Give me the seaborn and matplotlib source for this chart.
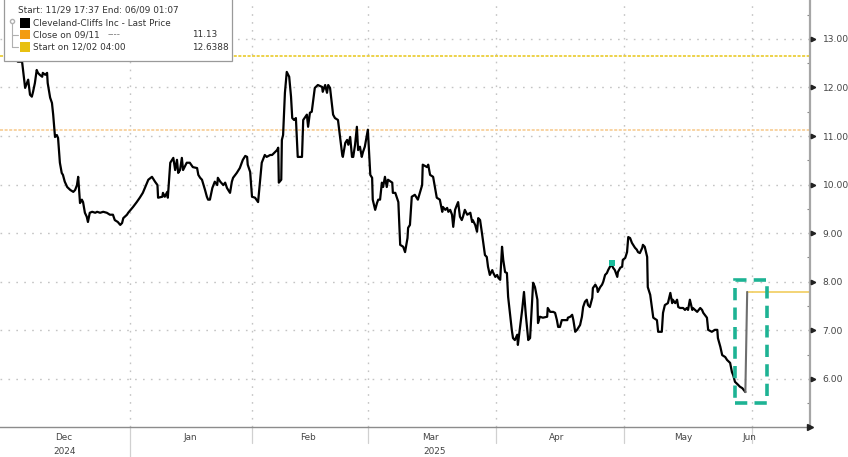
import matplotlib
matplotlib.use("Agg")
import matplotlib.pyplot as plt
import matplotlib.transforms as mtransforms
from matplotlib.patches import Rectangle
from matplotlib.lines import Line2D
import pandas as pd
import seaborn as sns

# ---------------- data (x = trading-session index, 0 = 29 Nov 2024) ----------------
session = [1.8, 3.1, 3.8, 4.3, 4.6, 4.8, 5.1, 5.4, 5.6, 5.9, 6.2, 6.4, 6.7, 7.1, 7.2, 7.6, 7.9, 8.0, 8.4,
           8.7, 8.9, 9.2, 9.5, 9.7, 10.0, 10.3, 10.5, 10.8, 11.2, 11.7, 12.2, 12.5, 12.8, 13.0, 13.3, 13.6, 13.8,
           14.1, 14.4, 14.6, 14.9, 15.3, 15.8, 16.1, 16.6, 17.1, 17.7, 18.2, 18.7, 19.0, 19.5, 19.9, 20.2, 20.4,
           21.0, 21.2, 22.0, 22.6, 23.1, 23.6, 24.0, 24.5, 25.1, 25.6, 26.0, 26.1, 26.8, 26.9, 27.2, 27.6, 27.7,
           28.1, 28.4, 28.6, 28.9, 29.2, 29.4, 29.7, 30.0, 30.2, 30.8, 31.3, 31.8, 32.5, 32.7, 33.0, 33.3, 33.8,
           34.1, 34.3, 34.6, 35.0, 35.4, 35.8, 35.9, 36.3, 36.8, 37.1, 37.4, 37.9, 38.2, 38.4, 39.0, 39.5, 40.0,
           40.4, 40.7, 40.8, 41.2, 41.5, 42.0, 42.5, 42.8, 43.1, 43.6, 43.9, 44.5, 44.8, 45.6, 45.8, 45.9, 46.3,
           46.4, 46.6, 46.9, 47.2, 47.6, 47.9, 48.1, 48.4, 48.7, 49.0, 49.7, 49.9, 50.5, 50.7, 51.0, 51.3, 51.8,
           52.3, 53.0, 53.1, 53.5, 53.8, 54.0, 54.3, 54.8, 55.1, 55.6, 56.3, 56.4, 56.8, 57.1, 57.3, 57.6, 57.9,
           58.1, 58.4, 58.7, 58.9, 59.2, 59.5, 59.7, 60.0, 60.4, 60.5, 60.9, 61.2, 61.3, 61.7, 62.0, 62.2, 62.5,
           62.8, 63.0, 63.3, 63.6, 63.8, 64.5, 64.6, 65.0, 65.5, 65.8, 66.3, 66.6, 67.0, 67.1, 67.4, 67.7, 68.2,
           68.7, 69.4, 69.5, 70.2, 70.4, 70.7, 71.2, 71.8, 72.3, 72.7, 72.8, 73.2, 73.5, 73.7, 74.0, 74.3, 74.5,
           74.8, 75.1, 75.3, 75.6, 75.9, 76.1, 76.4, 76.8, 77.3, 77.6, 77.7, 78.1, 78.4, 78.6, 78.9, 79.2, 79.7,
           80.0, 80.2, 80.5, 80.9, 81.0, 81.4, 81.7, 81.9, 82.2, 82.5, 82.7, 83.0, 83.3, 83.5, 83.8, 84.1, 84.3,
           84.6, 85.0, 85.1, 85.5, 85.8, 86.1, 86.4, 86.8, 87.1, 87.6, 87.9, 88.3, 88.4, 88.7, 89.2, 89.9, 90.0,
           90.4, 90.9, 91.2, 91.5, 91.7, 92.0, 92.3, 92.5, 93.2, 93.3, 93.7, 94.0, 94.2, 94.5, 94.8, 95.0, 95.3,
           95.6, 95.8, 96.1, 96.4, 96.6, 96.9, 97.3, 97.4, 97.8, 98.1, 98.2, 98.6, 98.9, 99.1, 99.4, 99.7, 99.9,
           100.2, 100.5, 100.7, 101.0, 101.4, 101.5, 101.9, 102.2, 102.3, 102.7, 103.0, 103.2, 103.5, 103.8,
           104.0, 104.3, 104.6, 104.8, 105.1, 105.5, 105.6, 105.9, 106.3, 106.4, 106.8, 107.3, 107.9, 108.1,
           108.7, 108.9, 109.2, 109.7, 110.1, 110.4, 110.5, 110.9, 111.2, 111.4, 111.7, 112.2, 112.5, 112.8,
           113.0, 113.3, 113.7, 113.8, 114.5, 115.0, 115.3, 115.5, 116.1, 116.3, 116.9, 117.4, 117.8, 117.9,
           118.3, 118.6, 119.1, 119.4, 119.9, 120.2, 120.4, 120.7, 121.2, 121.5, 121.9, 122.4]
price = [12.80, 12.53, 12.53, 11.99, 12.09, 12.16, 11.85, 11.81, 11.91, 12.09, 12.36, 12.30, 12.26, 12.22,
         12.30, 12.26, 12.30, 12.09, 11.79, 11.68, 11.44, 10.98, 11.02, 10.96, 10.45, 10.24, 10.20, 10.06, 9.95,
         9.89, 9.85, 9.89, 9.99, 10.16, 9.62, 9.69, 9.64, 9.42, 9.34, 9.23, 9.42, 9.44, 9.42, 9.44, 9.42, 9.44,
         9.42, 9.38, 9.38, 9.27, 9.23, 9.17, 9.21, 9.31, 9.38, 9.42, 9.54, 9.64, 9.73, 9.83, 9.95, 10.10, 10.16,
         10.06, 9.99, 9.73, 9.75, 9.83, 9.75, 9.85, 9.73, 10.45, 10.51, 10.55, 10.30, 10.51, 10.24, 10.30, 10.55,
         10.30, 10.45, 10.45, 10.36, 10.34, 10.20, 10.14, 10.10, 9.89, 9.75, 9.69, 9.69, 9.93, 10.06, 9.99, 10.14,
         10.06, 9.99, 10.04, 9.93, 9.83, 10.06, 10.14, 10.24, 10.34, 10.51, 10.59, 10.57, 10.41, 10.26, 9.75,
         9.73, 9.64, 10.04, 10.45, 10.61, 10.57, 10.61, 10.61, 10.71, 10.76, 10.04, 10.10, 10.92, 11.02, 11.89,
         12.32, 12.22, 11.81, 11.37, 11.33, 11.37, 10.57, 10.57, 11.33, 11.44, 11.19, 11.48, 11.50, 11.99, 12.05,
         12.01, 11.91, 12.05, 11.89, 12.05, 11.99, 11.44, 11.37, 11.33, 10.61, 10.57, 10.86, 10.92, 10.82, 10.98,
         10.57, 10.57, 10.82, 11.19, 10.71, 10.78, 10.57, 10.67, 10.78, 11.06, 11.13, 10.20, 10.14, 9.69, 9.48,
         9.62, 9.69, 9.69, 10.04, 9.95, 10.16, 9.95, 10.10, 10.04, 9.83, 9.83, 9.64, 8.76, 8.72, 8.61, 8.90, 9.11,
         9.17, 9.75, 9.79, 9.69, 9.99, 10.41, 10.36, 10.41, 10.20, 10.16, 9.73, 9.69, 9.44, 9.54, 9.48, 9.52,
         9.44, 9.48, 9.38, 9.13, 9.48, 9.58, 9.64, 9.34, 9.27, 9.34, 9.48, 9.38, 9.42, 9.23, 9.27, 9.17, 9.03,
         9.31, 9.27, 9.01, 8.55, 8.51, 8.31, 8.14, 8.24, 8.20, 8.10, 8.14, 8.08, 8.04, 8.72, 8.45, 8.20, 8.18,
         7.69, 7.36, 7.01, 6.84, 6.80, 6.91, 6.70, 7.11, 7.42, 7.79, 7.32, 6.80, 6.84, 7.98, 7.89, 7.63, 7.15,
         7.28, 7.26, 7.28, 7.46, 7.38, 7.38, 7.36, 7.21, 7.07, 7.07, 7.21, 7.21, 7.21, 7.26, 7.28, 7.32, 7.21,
         6.97, 7.01, 7.05, 7.11, 7.28, 7.48, 7.59, 7.63, 7.52, 7.48, 7.67, 7.87, 7.94, 7.87, 7.79, 7.89, 7.94,
         8.00, 8.14, 8.18, 8.24, 8.31, 8.35, 8.29, 8.24, 8.10, 8.20, 8.29, 8.31, 8.45, 8.49, 8.61, 8.92, 8.90,
         8.80, 8.76, 8.70, 8.66, 8.61, 8.59, 8.70, 8.76, 8.72, 8.51, 7.89, 7.73, 7.26, 7.21, 6.97, 6.97, 7.36,
         7.52, 7.56, 7.77, 7.56, 7.63, 7.56, 7.63, 7.48, 7.46, 7.46, 7.42, 7.46, 7.42, 7.63, 7.42, 7.46, 7.38,
         7.46, 7.42, 7.36, 7.26, 7.01, 6.97, 7.01, 7.01, 6.84, 6.66, 6.49, 6.45, 6.39, 6.33, 6.14, 6.08, 5.94,
         5.88, 5.84, 5.81, 5.73]
ext_session = [122.4, 122.7]
ext_price = [5.73, 7.79]
last_price = 7.78
close_0911 = 11.13
start_1202 = 12.6388
marker_session = [100.5]
marker_price = [8.39]
box_session = [120.7, 125.9]
box_price = [5.51, 8.04]

month_bounds = [21.5, 41.5, 60.5, 81.5, 102.5, 123.5]
month_labels = ["Dec", "Jan", "Feb", "Mar", "Apr", "May", "Jun"]
month_label_pos = [10.7, 31.3, 50.7, 70.7, 91.4, 112.2, 123.0]
year_labels = ["2024", "2025"]
year_label_pos = [10.7, 71.5]
y_ticks = [6, 7, 8, 9, 10, 11, 12, 13]
y_minor = [5.5, 6.5, 7.5, 8.5, 9.5, 10.5, 11.5, 12.5, 13.5]

legend_header = "Start: 11/29 17:37 End: 06/09 01:07"
legend_names = ["Cleveland-Cliffs Inc - Last Price", "Close on 09/11", "Start on 12/02 04:00"]
legend_values = ["", "11.13", "12.6388"]
legend_colors = ["#000000", "#f39c12", "#e8c010"]

# ---------------- styling ----------------
sns.set_theme(style="white")
plt.rcParams["font.family"] = ["DejaVu Sans"]

W, H = 848, 457
fig = plt.figure(figsize=(W / 100, H / 100), dpi=100)
fig.patch.set_facecolor("white")
ax = fig.add_axes([0, 1 - 427 / H, 810 / W, 427 / H])
ax.set_facecolor("white")

XMIN, XMAX = 0.18, 133.0
YMIN, YMAX = 5.01, 13.80
ax.set_xlim(XMIN, XMAX)
ax.set_ylim(YMIN, YMAX)

grid_kw = dict(color="#c4c4c4", lw=1.0, linestyle=(0, (1.2, 4.5)), zorder=0)
for yv in y_ticks:
    ax.axhline(yv, **grid_kw)
for xb in month_bounds:
    ax.axvline(xb, **grid_kw)

# reference lines
ax.axhline(start_1202, color="#e8c619", lw=1.1, linestyle=(0, (2, 1)), zorder=1)
ax.axhline(close_0911, color="#f7c889", lw=1.1, linestyle=(0, (2, 1)), zorder=1)

df = pd.DataFrame({"session": session, "price": price})
sns.lineplot(data=df, x="session", y="price", ax=ax, color="black", lw=1.6,
             sort=False, estimator=None, zorder=3)
dfe = pd.DataFrame({"session": ext_session, "price": ext_price})
sns.lineplot(data=dfe, x="session", y="price", ax=ax, color="#6e6e6e", lw=1.5,
             sort=False, estimator=None, zorder=3)
ax.plot([ext_session[-1], XMAX], [last_price, last_price], color="#f2d16b", lw=1.3, zorder=2)
ax.scatter(marker_session, marker_price, s=14, marker="s", color="#1abc9c", zorder=4, linewidths=0)

rect = Rectangle((box_session[0], box_price[0]), box_session[1] - box_session[0],
                 box_price[1] - box_price[0], fill=False, edgecolor="#1db394", lw=2.6,
                 linestyle=(0, (3.4, 2.0)), zorder=5)
ax.add_patch(rect)

# axes / spines
ax.set_xlabel("")
ax.set_ylabel("")
for s in ["left", "top"]:
    ax.spines[s].set_visible(False)
ax.spines["right"].set_color("#a6a6a6")
ax.spines["right"].set_linewidth(1.6)
ax.spines["bottom"].set_color("#8c8c8c")
ax.spines["bottom"].set_linewidth(1.0)

ax.yaxis.tick_right()
ax.set_yticks(y_ticks)
ax.set_yticklabels([f"{v:.2f}" for v in y_ticks])
ax.set_yticks(y_minor, minor=True)
ax.tick_params(axis="y", which="major", length=0, pad=9, labelsize=6.6, labelcolor="#444444")
ax.tick_params(axis="y", which="minor", length=2.5, width=0.8, color="#888888", direction="in")

ax.set_xticks(month_bounds)
ax.set_xticklabels([])
ax.set_xticks([i + 0.5 for i in range(0, 133)], minor=True)
ax.tick_params(axis="x", which="major", length=0)
ax.tick_params(axis="x", which="minor", length=3.0, width=0.7, color="#8a8a8a", direction="inout")

# tick triangles on right spine and arrow at axis end
ytr = mtransforms.blended_transform_factory(ax.transAxes, ax.transData)
ax.plot([1.004] * len(y_ticks), y_ticks, transform=ytr, linestyle="none", marker=">",
        markersize=3.2, color="#222222", clip_on=False, zorder=6)
ax.plot([1.0], [0.0], transform=ax.transAxes, marker=">", markersize=4, color="#222222",
        clip_on=False, zorder=6)

# month / year labels and separators
xtr = ax.get_xaxis_transform()
ah = 427.0
for lab, pos in zip(month_labels, month_label_pos):
    ax.text(pos, -10 / ah, lab, transform=xtr, ha="center", va="center", fontsize=6.4,
            color="#444444", clip_on=False)
for lab, pos in zip(year_labels, year_label_pos):
    ax.text(pos, -24 / ah, lab, transform=xtr, ha="center", va="center", fontsize=6.4,
            color="#444444", clip_on=False)
for i, xb in enumerate(month_bounds):
    bottom = -30 / ah if i == 0 else -16 / ah
    ax.plot([xb, xb], [0, bottom], transform=xtr, color="#d0d0d0", lw=0.9, clip_on=False)

# ---------------- legend box (figure pixels) ----------------
def fx(px):
    return px / W

def fy(py):
    return 1 - py / H

fig.patches.append(Rectangle((fx(4), fy(61)), fx(232) - fx(4), fy(0) - fy(61) + 0.01,
                             transform=fig.transFigure, facecolor="white", edgecolor="#9a9a9a",
                             lw=0.9, zorder=10))
fig.text(fx(18), fy(10), legend_header, fontsize=6.4, color="#333333", va="center", zorder=11)
rows_y = [23, 34.5, 47]
for (nm, val, col, ry) in zip(legend_names, legend_values, legend_colors, rows_y):
    fig.patches.append(Rectangle((fx(20), fy(ry + 4.5)), fx(9.5), 9 / H, transform=fig.transFigure,
                                 facecolor=col, edgecolor="none", zorder=11))
    fig.text(fx(33), fy(ry), nm, fontsize=6.4, color="#333333", va="center", zorder=11)
    if val:
        fig.text(fx(192), fy(ry), val, fontsize=6.4, color="#333333", va="center", zorder=11)
fig.text(fx(108), fy(34.5), "----", fontsize=6.4, color="#777777", va="center", zorder=11)
# tree connector
fig.lines.append(Line2D([fx(12), fx(12)], [fy(21), fy(47)], transform=fig.transFigure,
                        color="#b0b0b0", lw=0.8, zorder=11))
for ry in rows_y[1:]:
    fig.lines.append(Line2D([fx(12), fx(18)], [fy(ry), fy(ry)], transform=fig.transFigure,
                            color="#b0b0b0", lw=0.8, zorder=11))
fig.lines.append(Line2D([fx(12)], [fy(21)], transform=fig.transFigure, marker="o", markersize=3,
                        markerfacecolor="white", markeredgecolor="#b0b0b0", zorder=12))

fig.savefig("out.png", dpi=100, facecolor="white")
